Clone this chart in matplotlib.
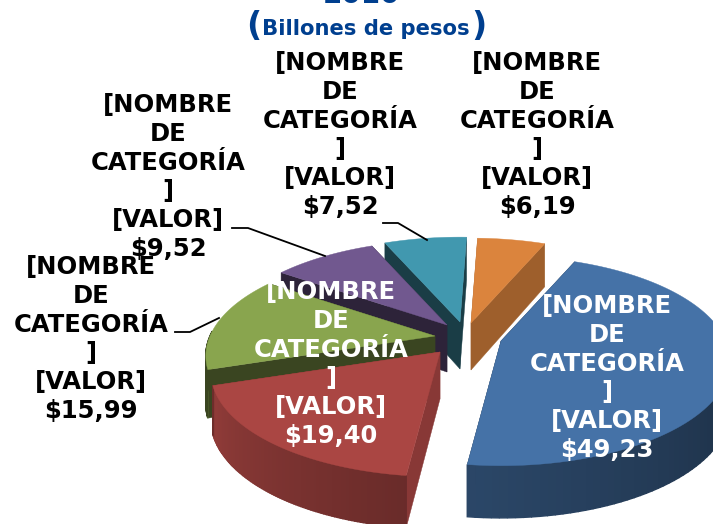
import numpy as np
import matplotlib
matplotlib.use("Agg")
import matplotlib.pyplot as plt
from matplotlib.patches import Polygon

# Datos, en sentido horario desde arriba
valores = [6.19, 49.23, 19.40, 15.99, 9.52, 7.52]
colores = ["#DB843D", "#4572A7", "#AA4643", "#89A54E", "#71588F", "#4198AF"]
sombra_corte = [0.72, 0.40, 0.80, 0.42, 0.40, 0.40]
etiqueta_color = ["black", "white", "white", "black", "black", "black"]
nombre = "[NOMBRE\nDE\nCATEGORÍA\n]\n[VALOR]\n"

# Posicion en pixeles: vertice de cada porcion y centro de cada etiqueta
vertices = [(471, 323), (501, 341), (440, 352), (435, 336), (447, 325), (460, 322)]
pos_etiqueta = [(537, 135), (607, 378), (331, 364), (91, 339), (168, 177), (340, 135)]
guias = [
    [(175, 332), (190, 332), (219, 318)],
    [(232, 228), (248, 228), (325, 256)],
    [(383, 223), (398, 223), (427, 240)],
]
orden = [0, 5, 4, 3, 2, 1]  # de atras hacia adelante

inicio = 2.0
rx, ry, k = 225.0, 101.0, 0.19
alto = 47.0

angulos = np.array(valores) / sum(valores) * 360
bordes = inicio + np.concatenate(([0], np.cumsum(angulos)))


def proyectar(vert, r, theta):
    t = np.radians(theta)
    x, y = r * np.sin(t), r * np.cos(t)
    w = 1 + k * y
    return np.column_stack((vert[0] + rx * x / w, vert[1] - ry * y / w))


def bajar(vert, r, theta):
    t = np.radians(theta)
    p = proyectar(vert, r, theta)
    p[:, 1] += alto / (1 + 0.1 * r * np.cos(t))
    return p


def oscurecer(color, f):
    return tuple(np.array(matplotlib.colors.to_rgb(color)) * f)


fig = plt.figure(figsize=(7.13, 5.24), dpi=100)
ax = fig.add_axes([0, 0, 1, 1])
ax.set_xlim(0, 713)
ax.set_ylim(524, 0)
ax.axis("off")

for i in orden:
    a0, a1 = bordes[i], bordes[i + 1]
    v = vertices[i]
    col = colores[i]
    arco = np.linspace(a0, a1, 100)

    # caras de corte
    for a in (a1, a0):
        arriba = np.vstack([proyectar(v, r, a * np.ones(1)) for r in (0.0, 1.0)])
        abajo = np.vstack([bajar(v, r, a * np.ones(1)) for r in (0.0, 1.0)])
        cara = np.vstack((arriba, abajo[::-1]))
        ax.add_patch(Polygon(cara, fc=oscurecer(col, sombra_corte[i]),
                             ec=oscurecer(col, sombra_corte[i]), lw=0.3, zorder=1))

    # borde exterior, con degradado
    for t0, t1 in zip(arco[:-1], arco[1:]):
        tm = ((t0 + t1) / 2) % 360
        if np.cos(np.radians(tm)) > 0.05:
            continue
        f = np.interp(tm, [90, 187, 250, 253, 300], [0.38, 0.62, 0.85, 0.42, 0.42])
        tramo = np.array([t0, t1])
        quad = np.vstack((proyectar(v, 1, tramo), bajar(v, 1, tramo)[::-1]))
        ax.add_patch(Polygon(quad, fc=oscurecer(col, f), ec=oscurecer(col, f),
                             lw=1.0, zorder=1))

    # cara superior
    sup = np.vstack((np.array([v]), proyectar(v, 1, arco)))
    ax.add_patch(Polygon(sup, fc=col, ec=col, lw=0.3, zorder=1))

for g in guias:
    g = np.array(g)
    ax.plot(g[:, 0], g[:, 1], color="black", lw=1.3, zorder=2)

for val, p, c in zip(valores, pos_etiqueta, etiqueta_color):
    txt = nombre + "$" + f"{val:.2f}".replace(".", ",")
    ax.text(p[0], p[1], txt, ha="center", va="center", color=c, fontsize=17.5,
            fontweight="bold", linespacing=1.25, zorder=3)

azul = "#003F8F"
ax.text(361, 3, "2010", ha="center", va="baseline", color=azul, fontsize=20, fontweight="bold")
ax.text(366, 29, "Billones de pesos", ha="center", va="center", color=azul, fontsize=15.2, fontweight="bold")
ax.text(254, 26, "(", ha="center", va="center", color=azul, fontsize=24, fontweight="bold")
ax.text(479, 26, ")", ha="center", va="center", color=azul, fontsize=24, fontweight="bold")

fig.savefig("out.png", dpi=100)
